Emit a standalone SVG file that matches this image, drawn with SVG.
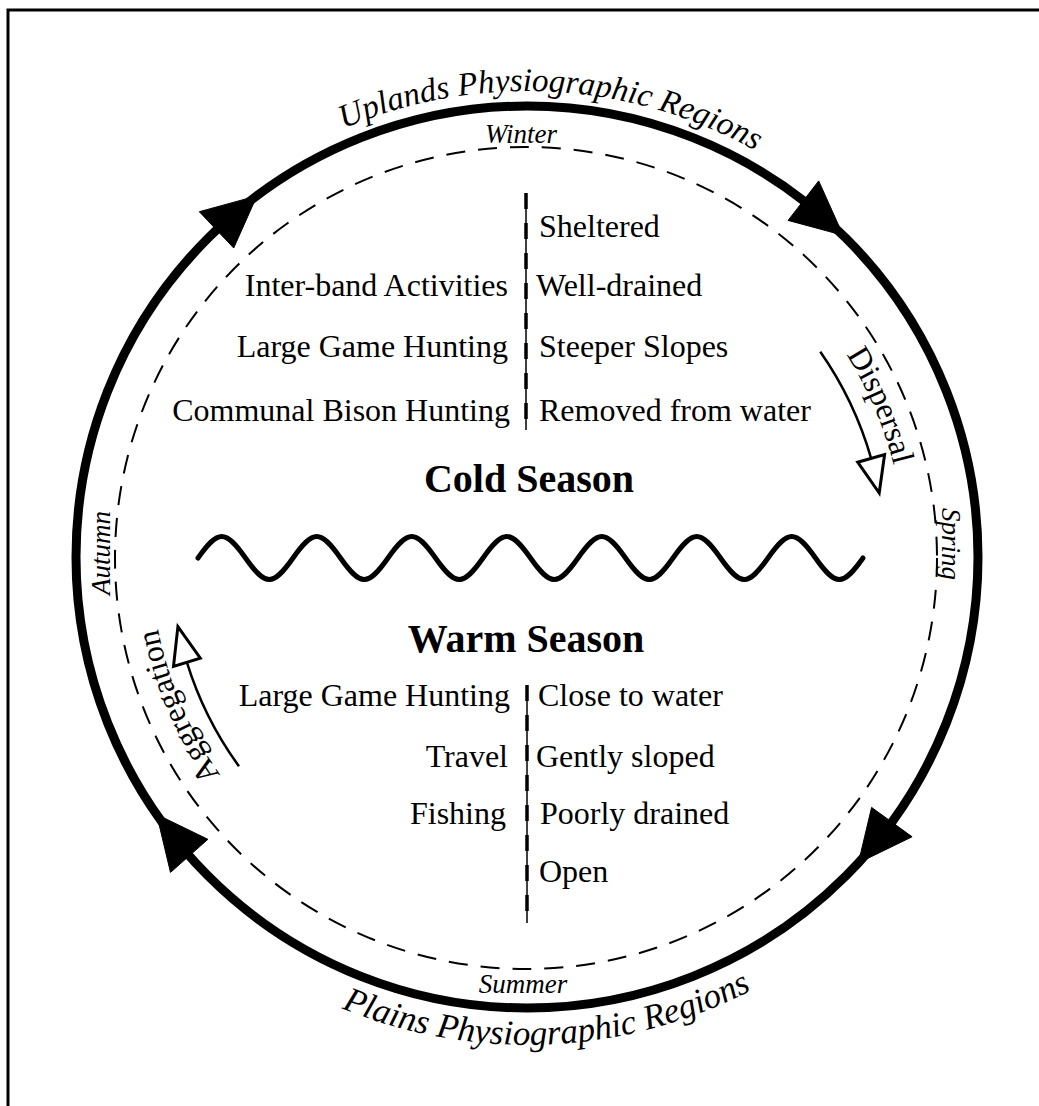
<svg xmlns="http://www.w3.org/2000/svg" width="1039" height="1106" viewBox="0 0 1039 1106">
<style>
.t{font-family:"Liberation Serif","Times New Roman",serif;font-size:32px;fill:#000}
.b{font-family:"Liberation Serif","Times New Roman",serif;font-size:40px;font-weight:bold;fill:#000}
.i{font-family:"Liberation Serif","Times New Roman",serif;font-style:italic;fill:#000}
.arc{font-size:33px}
.arc2{font-size:35px}
.season{font-size:27px}
.mv{font-family:"Liberation Serif","Times New Roman",serif;font-size:32px;fill:#000}
.thin{fill:none;stroke:#000;stroke-width:2.5}
.head{fill:#000;stroke:#000;stroke-width:1;stroke-linejoin:miter}
.hollow{fill:#fff;stroke:#000;stroke-width:3;stroke-linejoin:miter}
</style>
<defs>
<path id="pUp" d="M61,557 A466,466 0 0 1 993,557"/>
<path id="pPl" d="M39,557 A488,488 0 0 0 1015,557"/>
<path id="pDis" d="M592.6,184.7 A378,378 0 0 1 905,557"/>
<path id="pAgg" d="M339,882.6 A376,376 0 0 1 173.7,428.4"/>
</defs>
<rect width="1039" height="1106" fill="#fff"/>
<path d="M8,1106 L8,10 L1039,10" fill="none" stroke="#000" stroke-width="3"/>

<g id="connectors">
  <circle id="cycle" cx="527" cy="557" r="451" fill="none" stroke="#000" stroke-width="9"/>
  <circle id="seasons-ring" cx="526" cy="558" r="411" fill="none" stroke="#000" stroke-width="2" stroke-dasharray="19 13"/>
  <polygon class="head" points="843.1,235.3 788.1,220.4 818.7,180.9"/>
  <polygon class="head" points="858.4,862.9 871.6,807.4 912.1,836.8"/>
  <polygon class="head" points="156.7,814.4 207.9,839.3 170.5,872.4"/>
  <polygon class="head" points="256.9,195.9 233.7,248.0 199.3,211.7"/>
  <path class="thin" d="M820.3,351.7 A358,358 0 0 1 871.1,458.3"/>
  <polygon class="hollow" points="879.2,493 857.7,462.2 884.6,454.5"/>
  <path class="thin" d="M239,766.3 A356,356 0 0 1 186.9,662.3"/>
  <polygon class="hollow" points="177.9,626.7 200.3,658.1 173.5,666.4"/>
  <g id="dividers">
    <line x1="526" y1="193" x2="526" y2="430" stroke="#000" stroke-width="1.5"/>
    <line x1="526" y1="193" x2="526" y2="430" stroke="#000" stroke-width="3.5" stroke-dasharray="16 14"/>
    <line x1="527" y1="685" x2="527" y2="923" stroke="#000" stroke-width="1.5"/>
    <line x1="527" y1="685" x2="527" y2="923" stroke="#000" stroke-width="3.5" stroke-dasharray="16 14"/>
  </g>
  <path id="wave" fill="none" stroke="#000" stroke-width="5" stroke-linecap="round" d="M198,558 c20.16,-28.67 27.34,-28.67 47.5,0 c20.16,28.67 27.34,28.67 47.5,0 c20.16,-28.67 27.34,-28.67 47.5,0 c20.16,28.67 27.34,28.67 47.5,0 c20.16,-28.67 27.34,-28.67 47.5,0 c20.16,28.67 27.34,28.67 47.5,0 c20.16,-28.67 27.34,-28.67 47.5,0 c20.16,28.67 27.34,28.67 47.5,0 c20.16,-28.67 27.34,-28.67 47.5,0 c20.16,28.67 27.34,28.67 47.5,0 c20.16,-28.67 27.34,-28.67 47.5,0 c20.16,28.67 27.34,28.67 47.5,0 c20.16,-28.67 27.34,-28.67 47.5,0 c20.16,28.67 27.34,28.67 47.5,0"/>
</g>

<g id="uplands">
  <text class="i arc"><textPath href="#pUp" startOffset="543.3">Uplands</textPath></text>
  <text class="i arc"><textPath href="#pUp" startOffset="663.4">Physiographic</textPath></text>
  <text class="i arc"><textPath href="#pUp" startOffset="864.1">Regions</textPath></text>
</g>
<g id="plains">
  <text class="i arc2"><textPath href="#pPl" startOffset="575.9">Plains</textPath></text>
  <text class="i arc2"><textPath href="#pPl" startOffset="674.1">Physiographic</textPath></text>
  <text class="i arc2"><textPath href="#pPl" startOffset="887">Regions</textPath></text>
</g>
<g id="winter"><text class="i season" x="521" y="143" text-anchor="middle">Winter</text></g>
<g id="spring"><text class="i season" transform="translate(942,544) rotate(90)" text-anchor="middle">Spring</text></g>
<g id="summer"><text class="i season" x="523" y="993" text-anchor="middle">Summer</text></g>
<g id="autumn"><text class="i season" transform="translate(110,553) rotate(-90)" text-anchor="middle">Autumn</text></g>
<g id="dispersal"><text class="mv"><textPath href="#pDis" startOffset="71%" text-anchor="middle">Dispersal</textPath></text></g>
<g id="aggregation"><text class="mv"><textPath href="#pAgg" startOffset="46%" text-anchor="middle">Aggregation</textPath></text></g>

<g id="cold-activities">
  <text class="t" x="508" y="296" text-anchor="end">Inter-band Activities</text>
  <text class="t" x="508" y="357" text-anchor="end">Large Game Hunting</text>
  <text class="t" x="510" y="421" text-anchor="end">Communal Bison Hunting</text>
</g>
<g id="cold-sites">
  <text class="t" x="539" y="237">Sheltered</text>
  <text class="t" x="536" y="296">Well-drained</text>
  <text class="t" x="539" y="357">Steeper Slopes</text>
  <text class="t" x="539" y="421">Removed from water</text>
</g>
<g id="cold-season"><text class="b" x="529" y="492" text-anchor="middle">Cold Season</text></g>
<g id="warm-season"><text class="b" x="526" y="652" text-anchor="middle">Warm Season</text></g>
<g id="warm-activities">
  <text class="t" x="510" y="706" text-anchor="end">Large Game Hunting</text>
  <text class="t" x="508" y="767" text-anchor="end">Travel</text>
  <text class="t" x="506" y="824" text-anchor="end">Fishing</text>
</g>
<g id="warm-sites">
  <text class="t" x="538" y="706">Close to water</text>
  <text class="t" x="536" y="767">Gently sloped</text>
  <text class="t" x="540" y="824">Poorly drained</text>
  <text class="t" x="539" y="882">Open</text>
</g>
</svg>
